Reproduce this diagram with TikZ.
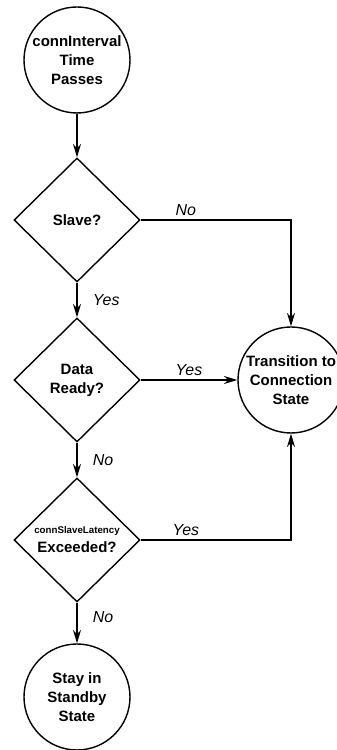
\documentclass[tikz,border=0pt]{standalone}
\usepackage{fontspec}
\setmainfont{Liberation Sans}
\usetikzlibrary{shapes.geometric,arrows.meta,positioning}

\tikzset{
  state/.style={circle, draw, line width=1.2pt, minimum size=3.18cm, inner sep=0pt,
    align=center, font=\fontsize{12.8}{16.2}\selectfont\bfseries},
  decision/.style={diamond, draw, line width=1.2pt, minimum width=3.78cm,
    minimum height=3.72cm, inner sep=0pt, align=center,
    font=\fontsize{12.8}{16.2}\selectfont\bfseries},
  flow/.style={line width=1.2pt, -{Stealth[length=4mm,width=2.4mm]}},
  answer/.style={font=\fontsize{13.6}{16}\selectfont\itshape, inner sep=1pt}
}

\begin{document}
\begin{tikzpicture}

		\useasboundingbox (0,0) rectangle (10.08,22.5);

		%States
		\node[state] (start) at (2.31,20.7) {connInterval\\Time\\Passes};
		\node[state] (connect) at (8.73,11.1) {Transition to\\Connection\\State};
		\node[state] (standby) at (2.31,1.59) {Stay in\\Standby\\State};

		%Decisions
		\node[decision] (slave) at (2.31,15.9) {Slave?};
		\node[decision] (ready) at (2.31,11.1) {Data\\Ready?};
		\node[decision] (latency) at (2.31,6.3) {{\fontsize{8.3}{10}\selectfont connSlaveLatency}\\Exceeded?};

		%Main column
		\draw[flow] (start) -- (slave);
		\draw[flow] (slave) -- node[answer, right=12pt] {Yes} (ready);
		\draw[flow] (ready) -- node[answer, right=12pt] {No} (latency);
		\draw[flow] (latency) -- node[answer, right=12pt, pos=0.35] {No} (standby);

		%Branches to the connection state
		\draw[flow] (slave.east) -| node[answer, above=2pt, pos=0.15] {No} (connect.north);
		\draw[flow] (ready.east) -- node[answer, above=2pt] {Yes} (connect.west);
		\draw[flow] (latency.east) -| node[answer, above=2pt, pos=0.15] {Yes} (connect.south);

	\end{tikzpicture}
\end{document}
